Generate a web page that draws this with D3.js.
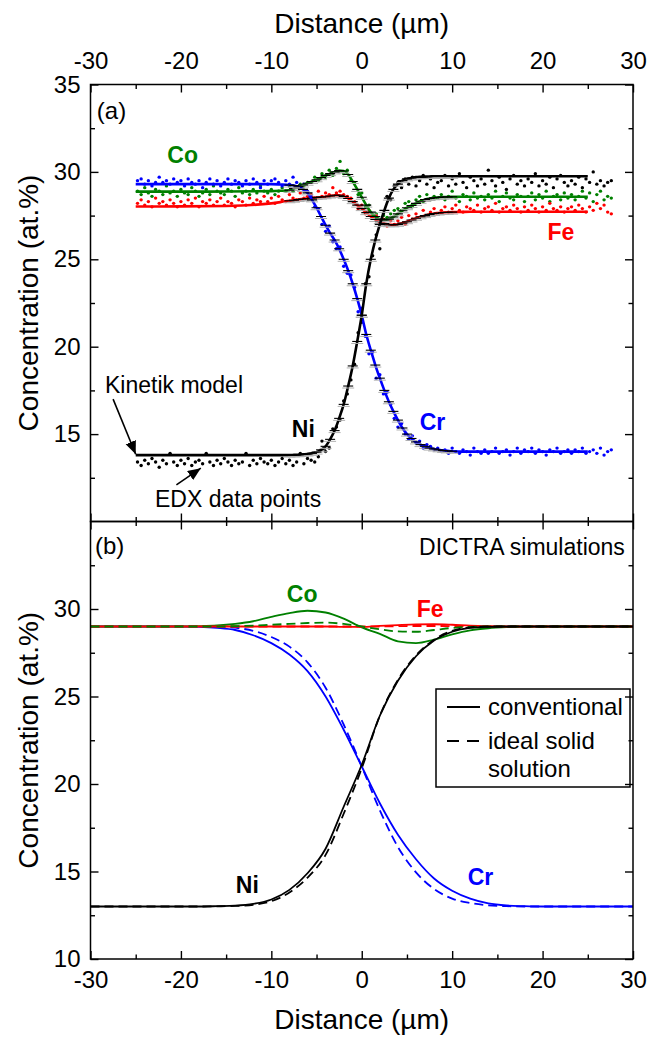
<!DOCTYPE html>
<html>
<head>
<meta charset="utf-8">
<script src="https://cdn.jsdelivr.net/npm/d3@7"></script>
<style>
  body { margin: 0; background: #fff; }
  svg text { font-family: "Liberation Sans", Arial, sans-serif; }
</style>
</head>
<body>
<svg id="chart" width="651" height="1039"></svg>
<script>
// ---- panel (a): EDX line scan (points) ----
const edxDist = [
  -24.8,-24.4,-24.0,-23.6,-23.2,-22.8,-22.4,-22.0,-21.6,-21.2,-20.8,-20.4,
  -20.0,-19.6,-19.2,-18.8,-18.4,-18.0,-17.6,-17.2,-16.8,-16.4,-16.0,-15.6,
  -15.2,-14.8,-14.4,-14.0,-13.6,-13.2,-12.8,-12.4,-12.0,-11.6,-11.2,-10.8,
  -10.4,-10.0,-9.6,-9.2,-8.8,-8.4,-8.0,-7.6,-7.2,-6.8,-6.4,-6.0,
  -5.6,-5.2,-4.8,-4.4,-4.0,-3.6,-3.2,-2.8,-2.4,-2.0,-1.6,-1.2,
  -0.8,-0.4,0.0,0.4,0.8,1.2,1.6,2.0,2.4,2.8,3.2,3.6,
  4.0,4.4,4.8,5.2,5.6,6.0,6.4,6.8,7.2,7.6,8.0,8.4,
  8.8,9.2,9.6,10.0,10.4,10.8,11.2,11.6,12.0,12.4,12.8,13.2,
  13.6,14.0,14.4,14.8,15.2,15.6,16.0,16.4,16.8,17.2,17.6,18.0,
  18.4,18.8,19.2,19.6,20.0,20.4,20.8,21.2,21.6,22.0,22.4,22.8,
  23.2,23.6,24.0,24.4,24.8,25.2,25.6,26.0,26.4,26.8,27.2,27.6
];
const edxCr = [
  29.5,29.6,29.3,29.5,29.2,29.4,29.7,29.4,29.5,29.3,29.6,29.4,
  29.5,29.2,29.6,29.4,29.3,29.5,29.1,29.4,29.6,29.3,29.5,29.2,
  29.4,29.6,29.3,29.5,29.4,29.2,29.5,29.3,29.6,29.4,29.1,29.5,
  29.3,29.5,29.6,29.4,29.2,29.5,29.3,29.7,29.4,29.2,29.3,28.9,
  28.6,28.0,27.9,27.0,26.6,26.9,26.0,25.6,25.7,24.6,24.2,24.1,
  23.4,22.0,22.2,20.6,19.6,19.7,18.2,18.4,17.3,17.4,16.7,15.9,
  15.4,15.6,15.0,14.7,14.9,14.5,14.6,14.2,14.4,14.3,14.1,14.2,
  14.0,14.1,13.9,14.2,14.0,13.9,14.1,14.0,13.8,14.2,14.0,13.9,
  14.1,13.9,14.0,14.2,13.9,14.0,14.1,13.8,14.0,14.2,13.9,14.1,
  14.0,14.2,13.9,14.1,14.0,13.8,14.1,14.0,14.2,13.9,14.0,14.1,
  13.9,14.1,14.0,14.2,13.9,14.0,14.1,13.9,14.2,13.8,14.0,14.1
];
const edxNi = [
  13.4,13.2,13.5,13.3,13.6,13.4,13.1,13.5,13.3,13.9,13.4,13.2,
  13.5,13.3,13.6,13.2,13.4,13.5,13.3,13.9,13.4,13.2,13.5,13.3,
  13.6,13.4,13.2,13.5,13.3,13.4,13.9,13.2,13.5,13.3,13.6,13.4,
  13.3,13.5,13.2,13.4,13.6,13.3,13.5,13.2,13.4,13.9,13.3,13.6,
  13.5,13.4,13.7,14.6,14.0,14.2,15.3,15.4,15.8,16.9,17.3,18.1,
  19.0,20.8,21.4,23.6,24.0,25.2,26.4,25.6,27.6,28.6,28.4,29.2,
  29.4,29.1,29.6,29.3,29.7,29.2,29.5,29.8,29.3,29.6,29.1,29.4,
  29.5,29.8,29.2,29.6,29.3,29.9,29.4,29.1,29.7,29.5,29.2,29.6,
  29.3,30.1,29.5,29.2,29.7,29.4,29.0,29.6,29.8,29.3,29.5,29.2,
  29.6,29.4,29.9,29.2,29.5,29.3,29.7,29.1,29.6,29.8,29.4,29.2,
  29.5,29.3,29.7,29.1,29.6,29.4,30.0,29.3,29.5,29.2,29.4,29.5
];
const edxCo = [
  28.9,28.7,29.1,28.8,28.6,29.0,28.9,28.7,29.2,28.8,28.9,28.6,
  29.0,28.8,28.7,29.1,28.9,28.6,28.8,29.0,28.7,29.2,28.9,28.8,
  28.7,29.0,28.9,28.6,29.1,28.8,28.9,28.7,29.0,28.8,29.2,28.9,
  28.8,29.0,28.7,28.9,29.1,28.9,29.2,28.9,29.1,29.3,29.2,29.4,
  29.4,29.7,29.5,29.9,29.7,30.1,29.8,30.2,30.6,29.9,30.1,29.5,
  29.4,28.7,28.8,28.0,28.1,27.5,27.6,27.2,27.5,27.4,27.6,27.8,
  27.9,27.8,28.2,28.3,28.0,28.4,28.6,28.3,28.7,28.4,28.6,28.5,
  28.7,28.4,28.6,28.9,28.5,28.3,28.7,28.6,28.4,28.8,28.5,28.6,
  28.4,28.7,28.5,28.9,28.3,28.6,28.8,28.5,28.4,28.7,28.6,28.3,
  28.6,28.8,28.4,28.7,28.5,28.9,28.3,28.6,28.7,28.4,28.8,28.5,
  28.7,28.4,28.6,28.9,28.5,28.8,28.3,28.7,28.9,28.4,28.6,28.5
];
const edxFe = [
  28.2,28.4,28.1,28.3,28.0,28.5,28.2,28.3,28.1,28.4,28.2,28.0,
  28.3,28.1,28.4,28.2,28.5,28.0,28.3,28.2,28.4,28.1,28.3,28.5,
  28.1,28.3,28.2,28.0,28.4,28.3,28.1,28.5,28.2,28.4,28.3,28.6,
  28.3,28.5,28.2,28.6,28.4,28.3,28.7,28.5,28.4,28.8,28.5,28.6,
  28.7,28.5,28.9,28.6,28.8,28.7,29.1,28.8,28.9,28.7,28.6,28.5,
  28.3,27.9,28.1,27.6,27.8,27.4,27.5,27.1,27.3,26.9,27.2,27.0,
  27.2,27.4,27.0,27.5,27.3,27.6,27.4,27.8,27.5,27.7,27.9,27.6,
  27.8,28.0,27.7,27.9,28.1,27.8,27.7,28.0,27.9,27.8,28.1,27.7,
  27.9,28.0,27.8,28.2,27.7,27.9,28.0,27.8,28.1,27.9,27.7,28.0,
  27.8,28.1,27.9,27.7,28.0,27.8,28.2,27.9,27.8,28.0,27.7,27.9,
  28.0,27.8,28.1,27.9,27.7,28.0,27.8,28.2,27.9,28.1,27.7,27.6
];

// ---- panel (a): kinetic model (lines with error caps) ----
const modelDist = [
  -25,-20,-15,-10,-9,
  -8,-7.5,-7,-6.5,-6,-5.5,-5,-4.5,-4,-3.5,-3,-2.5,-2,-1.5,-1,-0.5,0,
  0.5,1,1.5,2,2.5,3,3.5,4,4.5,5,5.5,6,6.5,7,7.5,8,8.5,9,9.5,10,
  11,12,15,20,25
];
const modelCr = [
  29.3,29.3,29.3,29.3,29.28,
  29.25,29.22,29.15,29.0,28.8,28.4,27.95,27.45,26.95,26.5,26.1,25.6,25.0,24.35,23.6,22.75,21.8,
  20.7,19.8,18.95,18.2,17.5,16.85,16.3,15.8,15.35,15.0,14.75,14.55,14.4,14.3,14.2,14.15,14.1,14.06,14.04,14.02,
  14.0,14.0,14.0,14.0,14.0
];
const modelNi = [
  13.8,13.8,13.8,13.8,13.8,
  13.8,13.81,13.82,13.84,13.86,13.9,13.97,14.1,14.3,14.7,15.2,15.9,16.7,17.75,18.9,20.3,21.8,
  23.6,25.0,26.1,27.0,27.8,28.5,29.0,29.3,29.5,29.6,29.65,29.7,29.72,29.73,29.74,29.75,29.75,29.75,29.75,29.75,
  29.75,29.75,29.75,29.75,29.75
];
const modelCo = [
  28.87,28.87,28.88,28.9,28.92,
  28.95,29.05,29.15,29.25,29.35,29.45,29.55,29.67,29.8,29.9,30.0,30.08,30.05,29.85,29.45,29.0,28.55,
  28.1,27.7,27.45,27.3,27.25,27.3,27.42,27.6,27.78,27.95,28.08,28.2,28.32,28.42,28.48,28.52,28.54,28.56,28.57,28.58,
  28.58,28.58,28.58,28.58,28.58
];
const modelFe = [
  28.02,28.03,28.05,28.2,28.27,
  28.35,28.38,28.42,28.45,28.48,28.51,28.54,28.56,28.58,28.62,28.66,28.66,28.6,28.48,28.3,28.1,27.9,
  27.67,27.45,27.28,27.15,27.05,26.98,26.97,27.0,27.07,27.15,27.25,27.35,27.43,27.5,27.57,27.62,27.65,27.68,27.69,27.7,
  27.71,27.72,27.72,27.72,27.72
];

// ---- panel (b): DICTRA simulations ----
const simDist = [-30,-20,-18,-16,-14,-12,-10,-8,-6,-4,-2,0,2,4,6,8,10,12,14,16,18,20,30];
const simNi      = [13.0,13.0,13.0,13.02,13.05,13.15,13.4,13.95,14.9,16.3,18.7,21.1,23.9,25.9,27.3,28.2,28.7,28.92,28.98,29.0,29.0,29.0,29.0];
const simNiIdeal = [13.0,13.0,13.0,13.01,13.03,13.1,13.3,13.8,14.65,15.95,18.3,20.9,23.9,25.95,27.35,28.25,28.75,28.95,29.0,29.0,29.0,29.0,29.0];
const simCr      = [29.0,29.0,28.98,28.92,28.8,28.5,28.05,27.4,26.45,25.0,23.1,21.0,18.9,17.1,15.7,14.6,13.9,13.45,13.18,13.06,13.02,13.0,13.0];
const simCrIdeal = [29.0,29.0,29.0,29.0,28.93,28.75,28.4,27.85,26.95,25.5,23.4,21.0,18.5,16.4,14.95,14.0,13.45,13.2,13.07,13.02,13.0,13.0,13.0];
const simCo      = [29.0,29.0,29.02,29.06,29.15,29.3,29.55,29.77,29.9,29.8,29.45,28.95,28.58,28.15,28.05,28.25,28.55,28.78,28.9,28.96,28.99,29.0,29.0];
const simCoIdeal = [29.0,29.0,29.0,29.0,29.02,29.05,29.1,29.15,29.2,29.22,29.15,29.0,28.84,28.72,28.7,28.8,28.92,28.98,29.0,29.0,29.0,29.0,29.0];
const simFe      = [29.0,29.0,29.0,29.0,29.0,29.0,29.0,29.0,29.0,29.0,28.98,28.98,29.03,29.08,29.12,29.13,29.1,29.05,29.02,29.0,29.0,29.0,29.0];
const simFeIdeal = [29.0,29.0,29.0,29.0,29.0,29.0,29.0,29.0,29.0,29.0,29.0,29.0,29.0,29.02,29.03,29.03,29.02,29.0,29.0,29.0,29.0,29.0,29.0];

const xMajor = [-30,-20,-10,0,10,20,30];
const xMinor = [-25,-15,-5,5,15,25];
const yMajorA = [15,20,25,30,35];
const yMajorB = [10,15,20,25,30];
const yMinor = [12.5,17.5,22.5,27.5,32.5];

const colors = { Cr: "#0000ff", Ni: "#000000", Co: "#008000", Fe: "#ff0000" };

const svg = d3.select("#chart");
const font = "'Liberation Sans', Arial, sans-serif";

const x = d3.scaleLinear().domain([-30, 30]).range([90.5, 633]);
const yA = d3.scaleLinear().domain([10, 35]).range([521.5, 84.5]);
const yB = d3.scaleLinear().domain([10, 35]).range([959, 521.5]);

const zip = (xs, ys) => xs.map((d, i) => ({ x: d, y: ys[i] }));

svg.append("defs").call(defs => {
  defs.append("clipPath").attr("id", "clipA").append("rect")
    .attr("x", x(-30)).attr("y", yA(35)).attr("width", x(30) - x(-30)).attr("height", yA(10) - yA(35));
  defs.append("clipPath").attr("id", "clipB").append("rect")
    .attr("x", x(-30)).attr("y", yB(35)).attr("width", x(30) - x(-30)).attr("height", yB(10) - yB(35));
  defs.append("marker").attr("id", "arrow")
    .attr("markerUnits", "userSpaceOnUse")
    .attr("markerWidth", 14).attr("markerHeight", 12)
    .attr("refX", 13).attr("refY", 5.5).attr("orient", "auto")
    .append("path").attr("d", "M0,0 L13,5.5 L0,11 Z").attr("fill", "#000");
});

// ---------- panel (a) ----------
const gA = svg.append("g").attr("clip-path", "url(#clipA)");

[["Ni", edxNi], ["Co", edxCo], ["Fe", edxFe], ["Cr", edxCr]].forEach(([el, vals]) => {
  gA.append("g").selectAll("circle")
    .data(zip(edxDist, vals))
    .join("circle")
    .attr("cx", d => x(d.x))
    .attr("cy", d => yA(d.y))
    .attr("r", 1.7)
    .attr("fill", colors[el]);
});

const lineA = d3.line().x(d => x(d.x)).y(d => yA(d.y)).curve(d3.curveMonotoneX);

[["Fe", modelFe], ["Co", modelCo], ["Cr", modelCr], ["Ni", modelNi]].forEach(([el, vals]) => {
  const pts = zip(modelDist, vals);
  gA.append("path")
    .datum(pts)
    .attr("fill", "none")
    .attr("stroke", colors[el])
    .attr("stroke-width", 2.6)
    .attr("d", lineA);
  // error caps of the model
  const caps = pts.filter(d => d.x >= -8 && d.x <= 10);
  gA.append("g").selectAll("line.grey")
    .data(caps)
    .join("line")
    .attr("x1", d => x(d.x) - 6).attr("x2", d => x(d.x) + 6)
    .attr("y1", d => yA(d.y) + 2).attr("y2", d => yA(d.y) + 2)
    .attr("stroke", "#b0b0b0").attr("stroke-width", 1);
  gA.append("g").selectAll("line.cap")
    .data(caps)
    .join("line")
    .attr("x1", d => x(d.x) - 5).attr("x2", d => x(d.x) + 5)
    .attr("y1", d => yA(d.y)).attr("y2", d => yA(d.y))
    .attr("stroke", "#000").attr("stroke-width", 1.1);
});

// annotations (a)
const labelsA = [
  { t: "Co", x: -21.5, y: 30.49, c: colors.Co },
  { t: "Fe", x: 20.55, y: 26.09, c: colors.Fe },
  { t: "Ni", x: -7.73, y: 14.83, c: colors.Ni },
  { t: "Cr", x: 6.41, y: 15.23, c: colors.Cr }
];
svg.append("g").selectAll("text")
  .data(labelsA)
  .join("text")
  .attr("x", d => x(d.x)).attr("y", d => yA(d.y))
  .attr("fill", d => d.c)
  .attr("font-weight", "bold")
  .attr("font-size", 23)
  .text(d => d.t);

svg.append("text").attr("x", x(-29.3)).attr("y", yA(33.0)).attr("font-size", 24).text("(a)");
svg.append("text").attr("x", x(-28.4)).attr("y", yA(17.34)).attr("font-size", 23).text("Kinetik model");
svg.append("text").attr("x", x(-22.87)).attr("y", yA(10.83)).attr("font-size", 23).text("EDX data points");

svg.append("line")
  .attr("x1", x(-27.5)).attr("y1", yA(17.0))
  .attr("x2", x(-25)).attr("y2", yA(13.85))
  .attr("stroke", "#000").attr("stroke-width", 1.6)
  .attr("marker-end", "url(#arrow)");
svg.append("line")
  .attr("x1", x(-20.5)).attr("y1", yA(12.1))
  .attr("x2", x(-17.8)).attr("y2", yA(13.05))
  .attr("stroke", "#000").attr("stroke-width", 1.6)
  .attr("marker-end", "url(#arrow)");

// ---------- panel (b) ----------
const gB = svg.append("g").attr("clip-path", "url(#clipB)");
const lineB = d3.line().x(d => x(d.x)).y(d => yB(d.y)).curve(d3.curveMonotoneX);

const simSeries = [
  { el: "Cr", vals: simCr, dash: null },
  { el: "Cr", vals: simCrIdeal, dash: "9,5" },
  { el: "Co", vals: simCo, dash: null },
  { el: "Fe", vals: simFe, dash: null },
  { el: "Fe", vals: simFeIdeal, dash: "9,5" },
  { el: "Co", vals: simCoIdeal, dash: "9,5" },
  { el: "Ni", vals: simNi, dash: null },
  { el: "Ni", vals: simNiIdeal, dash: "9,5" }
];
simSeries.forEach(s => {
  gB.append("path")
    .datum(zip(simDist, s.vals))
    .attr("fill", "none")
    .attr("stroke", colors[s.el])
    .attr("stroke-width", 1.8)
    .attr("stroke-dasharray", s.dash)
    .attr("d", lineB);
});

const labelsB = [
  { t: "Co", x: -8.29, y: 30.4, c: colors.Co },
  { t: "Fe", x: 6.08, y: 29.54, c: colors.Fe },
  { t: "Ni", x: -13.93, y: 13.77, c: colors.Ni },
  { t: "Cr", x: 11.71, y: 14.23, c: colors.Cr }
];
svg.append("g").selectAll("text")
  .data(labelsB)
  .join("text")
  .attr("x", d => x(d.x)).attr("y", d => yB(d.y))
  .attr("fill", d => d.c)
  .attr("font-weight", "bold")
  .attr("font-size", 23)
  .text(d => d.t);

svg.append("text").attr("x", x(-29.5)).attr("y", yB(33.14)).attr("font-size", 24).text("(b)");
svg.append("text").attr("x", x(29.1)).attr("y", yB(33.09)).attr("font-size", 23)
  .attr("text-anchor", "end").text("DICTRA simulations");

// legend
const leg = svg.append("g").attr("transform", "translate(436,689)");
leg.append("rect").attr("width", 194).attr("height", 98)
  .attr("fill", "#fff").attr("stroke", "#000").attr("stroke-width", 1.5);
leg.append("line").attr("x1", 11).attr("x2", 44).attr("y1", 18).attr("y2", 18)
  .attr("stroke", "#000").attr("stroke-width", 1.8);
leg.append("line").attr("x1", 11).attr("x2", 44).attr("y1", 52).attr("y2", 52)
  .attr("stroke", "#000").attr("stroke-width", 1.8).attr("stroke-dasharray", "12,8");
leg.append("text").attr("x", 52).attr("y", 26).attr("font-size", 24).text("conventional");
leg.append("text").attr("x", 52).attr("y", 60).attr("font-size", 24).text("ideal solid");
leg.append("text").attr("x", 52).attr("y", 88).attr("font-size", 24).text("solution");

// ---------- axes ----------
const plain = d => String(d);

function styleAxis(g) {
  g.attr("font-size", 24).attr("font-family", font);
  g.selectAll(".domain").remove();
  g.selectAll(".tick line").attr("stroke", "#000").attr("stroke-width", 1.4);
  g.selectAll(".tick text").attr("fill", "#000");
}

function addAxis(axisFn, scale, majors, labels, pos, padding) {
  const major = axisFn(scale).tickValues(majors).tickSize(-8).tickPadding(padding)
    .tickFormat(labels ? plain : "");
  const minor = axisFn(scale).tickValues(scale === x ? xMinor : yMinor).tickSize(-4.5).tickFormat("");
  svg.append("g").attr("transform", pos).call(major).call(styleAxis);
  svg.append("g").attr("transform", pos).call(minor).call(styleAxis);
}

// top axis of (a)
addAxis(d3.axisTop, x, xMajor, true, `translate(0,${yA(35)})`, 15.5);
// bottom of (a) (no labels)
addAxis(d3.axisBottom, x, xMajor, false, `translate(0,${yA(10)})`, 0);
// top of (b) (no labels)
addAxis(d3.axisTop, x, xMajor, false, `translate(0,${yB(35)})`, 0);
// bottom axis of (b)
addAxis(d3.axisBottom, x, xMajor, true, `translate(0,${yB(10)})`, 12);

// left / right axes
[[yA, yMajorA], [yB, yMajorB]].forEach(([ys, majors]) => {
  const left = d3.axisLeft(ys).tickValues(majors).tickSize(-8).tickPadding(10).tickFormat(plain);
  const leftMinor = d3.axisLeft(ys).tickValues(yMinor).tickSize(-4.5).tickFormat("");
  svg.append("g").attr("transform", `translate(${x(-30)},0)`).call(left).call(styleAxis);
  svg.append("g").attr("transform", `translate(${x(-30)},0)`).call(leftMinor).call(styleAxis);
  const right = d3.axisRight(ys).tickValues(majors).tickSize(-8).tickFormat("");
  const rightMinor = d3.axisRight(ys).tickValues(yMinor).tickSize(-4.5).tickFormat("");
  svg.append("g").attr("transform", `translate(${x(30)},0)`).call(right).call(styleAxis);
  svg.append("g").attr("transform", `translate(${x(30)},0)`).call(rightMinor).call(styleAxis);
});

// frames
[yA, yB].forEach(ys => {
  svg.append("rect")
    .attr("x", x(-30)).attr("y", ys(35))
    .attr("width", x(30) - x(-30)).attr("height", ys(10) - ys(35))
    .attr("fill", "none").attr("stroke", "#000").attr("stroke-width", 1.5);
});

// axis titles
svg.append("text").attr("x", x(0)).attr("y", 33).attr("text-anchor", "middle")
  .attr("font-size", 28).text("Distance (µm)");
svg.append("text").attr("x", x(0)).attr("y", 1029).attr("text-anchor", "middle")
  .attr("font-size", 28).text("Distance (µm)");
[yA, yB].forEach(ys => {
  const cy = (ys(10) + ys(35)) / 2;
  svg.append("text")
    .attr("transform", `translate(38,${cy}) rotate(-90)`)
    .attr("text-anchor", "middle")
    .attr("font-size", 28)
    .text("Concentration (at.%)");
});
</script>
</body>
</html>
